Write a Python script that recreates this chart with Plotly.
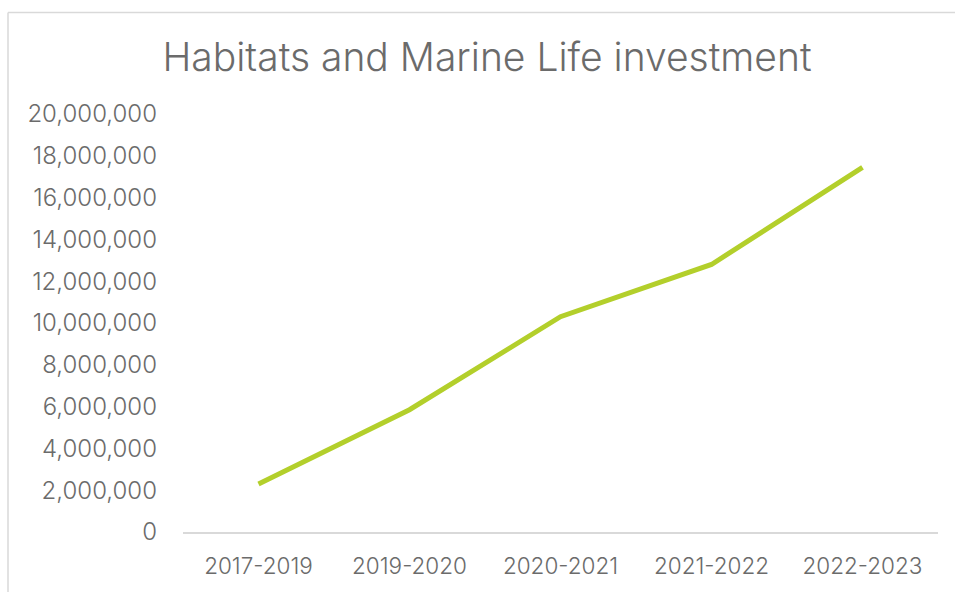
import plotly.graph_objects as go

# Investment by financial period
periods = ["2017-2019", "2019-2020", "2020-2021", "2021-2022", "2022-2023"]
investment = [2_300_000, 5_850_000, 10_300_000, 12_800_000, 17_450_000]

y_ticks = list(range(0, 20_000_001, 2_000_000))
y_tick_text = [f"{v:,}" for v in y_ticks]

W, H = 955, 592
M_L, M_R, M_T, M_B = 183, 17, 114, 60
plot_w = W - M_L - M_R
plot_h = H - M_T - M_B

def px_to_paper_x(px):
    return (px - M_L) / plot_w

def px_to_paper_y(py):
    return (H - M_B - py) / plot_h

TEXT = "#6b6b6b"
FONT = "Inter, 'DejaVu Sans', sans-serif"

fig = go.Figure()
fig.add_trace(go.Scatter(
    x=periods,
    y=investment,
    mode="lines",
    line=dict(color="#b3cf2b", width=5),
    hoverinfo="x+y",
))

# Light frame around the chart area
fig.add_shape(type="line", xref="paper", yref="paper",
              x0=px_to_paper_x(8), x1=px_to_paper_x(W + 5),
              y0=px_to_paper_y(12.5), y1=px_to_paper_y(12.5),
              line=dict(color="#d9d9d9", width=1.5))
fig.add_shape(type="line", xref="paper", yref="paper",
              x0=px_to_paper_x(8), x1=px_to_paper_x(8),
              y0=px_to_paper_y(12.5), y1=px_to_paper_y(H + 5),
              line=dict(color="#d9d9d9", width=1.5))

fig.update_layout(
    width=W,
    height=H,
    margin=dict(l=M_L, r=M_R, t=M_T, b=M_B),
    paper_bgcolor="white",
    plot_bgcolor="white",
    showlegend=False,
    font=dict(family=FONT, color=TEXT, weight=300),
    title=dict(
        text="Habitats and Marine Life investment",
        x=487 / W,
        xanchor="center",
        y=1 - 57 / H,
        yanchor="middle",
        font=dict(family=FONT, size=39, color=TEXT, weight=300),
    ),
    xaxis=dict(
        type="category",
        range=[-0.5, 4.5],
        showline=True,
        linecolor="#d9d9d9",
        linewidth=1.5,
        showgrid=False,
        zeroline=False,
        ticks="",
        tickfont=dict(size=22.5, color=TEXT, weight=300),
        ticklabelstandoff=13,
    ),
    yaxis=dict(
        range=[0, 20_000_000],
        tickvals=y_ticks,
        ticktext=y_tick_text,
        showgrid=False,
        zeroline=False,
        showline=False,
        ticks="",
        tickfont=dict(size=24, color=TEXT, weight=300),
        ticklabelstandoff=25,
    ),
)

fig.write_html("out.html")
